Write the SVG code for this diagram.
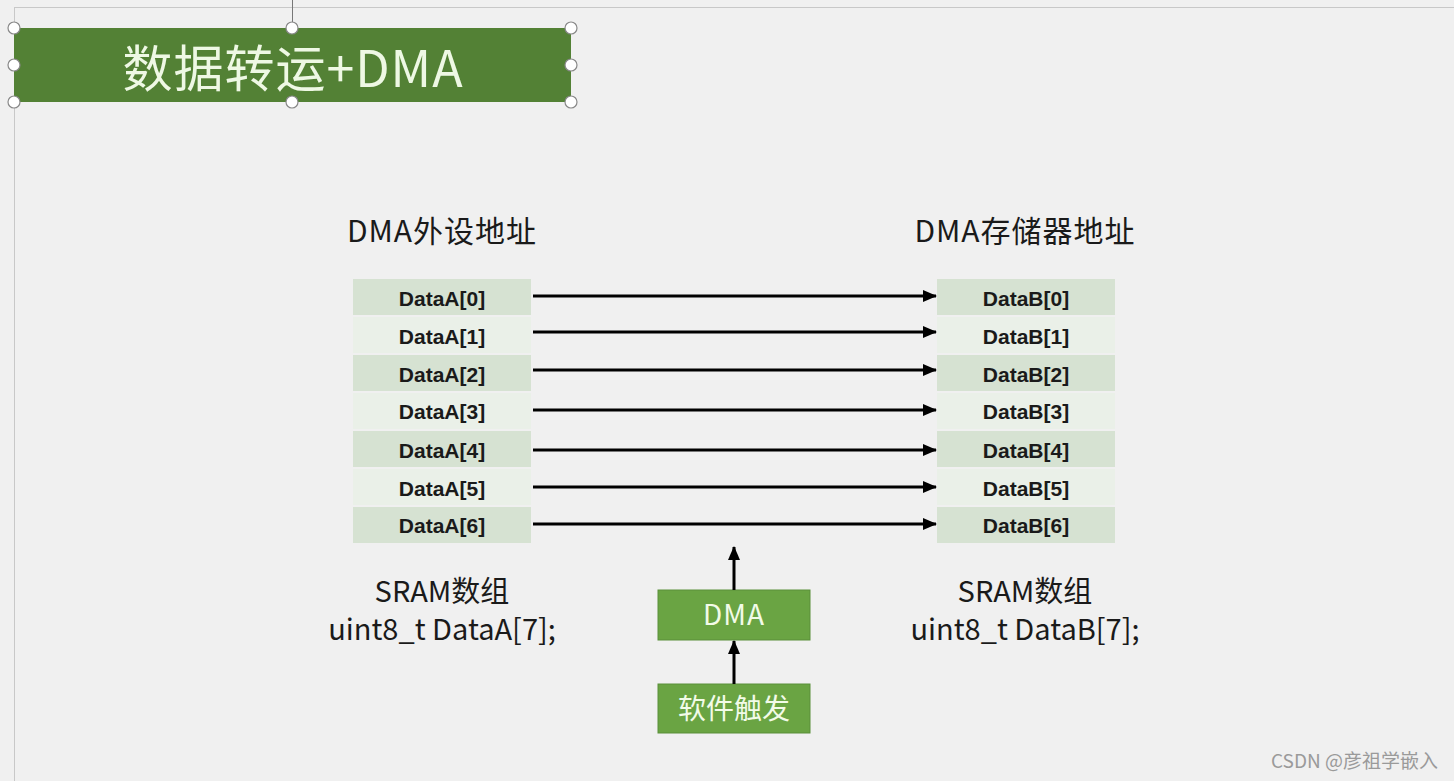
<svg xmlns="http://www.w3.org/2000/svg" width="1454" height="781" viewBox="0 0 1454 781">
<defs>
<marker id="ah" markerWidth="14" markerHeight="12" refX="13" refY="6" orient="auto" markerUnits="userSpaceOnUse">
<path d="M0,0 L14,6 L0,12 Z" fill="#000"/>
</marker>
<style>
.cn{font-family:"Noto Sans CJK SC","Liberation Sans",sans-serif;}
.cell{font-family:"Liberation Sans","Noto Sans CJK SC",sans-serif;font-weight:bold;font-size:21px;fill:#1a1a1a;text-anchor:middle;}
.dk{fill:#d6e2d2;}
.lt{fill:#eaf0e8;}
.lbl{font-size:30px;fill:#1a1a1a;text-anchor:middle;letter-spacing:1px;}
.sr{font-size:29px;fill:#1a1a1a;text-anchor:middle;}
.gbox{fill:#6aa443;stroke:#5a8f3a;stroke-width:1;}
.gtxt{font-size:28px;fill:#f2fbe8;text-anchor:middle;}
.conn{stroke:#000;stroke-width:3;fill:none;}
.hdl{fill:#fff;stroke:#888;stroke-width:1.2;}
</style>
</defs>
<rect x="0" y="0" width="1454" height="781" fill="#f0f0f0"/>
<line x1="14" y1="7.5" x2="1454" y2="7.5" stroke="#c8c8c8" stroke-width="1"/>
<line x1="14.5" y1="7" x2="14.5" y2="781" stroke="#c8c8c8" stroke-width="1"/>
<line x1="292.5" y1="0" x2="292.5" y2="28" stroke="#777" stroke-width="1"/>

<g id="title">
<rect x="14" y="28" width="557" height="74" fill="#538135"/>
<text x="293" y="87" class="cn" font-size="50" fill="#eef8e4" text-anchor="middle" letter-spacing="1">数据转运+DMA</text>
<circle class="hdl" cx="14" cy="28" r="6"/>
<circle class="hdl" cx="292" cy="28" r="6"/>
<circle class="hdl" cx="571" cy="28" r="6"/>
<circle class="hdl" cx="14" cy="65" r="6"/>
<circle class="hdl" cx="571" cy="65" r="6"/>
<circle class="hdl" cx="14" cy="102" r="6"/>
<circle class="hdl" cx="292" cy="102" r="6"/>
<circle class="hdl" cx="571" cy="102" r="6"/>
</g>

<g id="labelA">
<text x="442" y="242" class="cn lbl">DMA外设地址</text>
</g>
<g id="labelB">
<text x="1025" y="242" class="cn lbl">DMA存储器地址</text>
</g>

<g id="arrayA">
<rect x="353" y="279" width="178" height="36" class="dk"/>
<rect x="353" y="317" width="178" height="36" class="lt"/>
<rect x="353" y="355" width="178" height="36" class="dk"/>
<rect x="353" y="393" width="178" height="36" class="lt"/>
<rect x="353" y="431" width="178" height="36" class="dk"/>
<rect x="353" y="469" width="178" height="36" class="lt"/>
<rect x="353" y="507" width="178" height="36" class="dk"/>
<text x="442" y="306" class="cell">DataA[0]</text>
<text x="442" y="344" class="cell">DataA[1]</text>
<text x="442" y="382" class="cell">DataA[2]</text>
<text x="442" y="419" class="cell">DataA[3]</text>
<text x="442" y="458" class="cell">DataA[4]</text>
<text x="442" y="496" class="cell">DataA[5]</text>
<text x="442" y="533" class="cell">DataA[6]</text>
</g>

<g id="arrayB">
<rect x="937" y="279" width="178" height="36" class="dk"/>
<rect x="937" y="317" width="178" height="36" class="lt"/>
<rect x="937" y="355" width="178" height="36" class="dk"/>
<rect x="937" y="393" width="178" height="36" class="lt"/>
<rect x="937" y="431" width="178" height="36" class="dk"/>
<rect x="937" y="469" width="178" height="36" class="lt"/>
<rect x="937" y="507" width="178" height="36" class="dk"/>
<text x="1026" y="306" class="cell">DataB[0]</text>
<text x="1026" y="344" class="cell">DataB[1]</text>
<text x="1026" y="382" class="cell">DataB[2]</text>
<text x="1026" y="419" class="cell">DataB[3]</text>
<text x="1026" y="458" class="cell">DataB[4]</text>
<text x="1026" y="496" class="cell">DataB[5]</text>
<text x="1026" y="533" class="cell">DataB[6]</text>
</g>

<g id="sramA">
<text x="442" y="602" class="cn sr">SRAM数组</text>
<text x="442" y="640" class="cn sr">uint8_t DataA[7];</text>
</g>
<g id="sramB">
<text x="1025" y="602" class="cn sr">SRAM数组</text>
<text x="1025" y="640" class="cn sr">uint8_t DataB[7];</text>
</g>

<g id="dma">
<rect x="658" y="590" width="152" height="50" class="gbox"/>
<text x="734" y="625" class="cn gtxt" font-size="27" letter-spacing="1">DMA</text>
</g>
<g id="trigger">
<rect x="658" y="684" width="152" height="49" class="gbox"/>
<text x="734" y="719" class="cn gtxt">软件触发</text>
</g>

<g id="connectors">
<line x1="533" y1="296" x2="936" y2="296" class="conn" marker-end="url(#ah)"/>
<line x1="533" y1="332" x2="936" y2="332" class="conn" marker-end="url(#ah)"/>
<line x1="533" y1="370" x2="936" y2="370" class="conn" marker-end="url(#ah)"/>
<line x1="533" y1="410" x2="936" y2="410" class="conn" marker-end="url(#ah)"/>
<line x1="533" y1="450" x2="936" y2="450" class="conn" marker-end="url(#ah)"/>
<line x1="533" y1="487" x2="936" y2="487" class="conn" marker-end="url(#ah)"/>
<line x1="533" y1="524" x2="936" y2="524" class="conn" marker-end="url(#ah)"/>
<line x1="734" y1="684" x2="734" y2="641" class="conn" marker-end="url(#ah)"/>
<line x1="734" y1="590" x2="734" y2="547" class="conn" marker-end="url(#ah)"/>
</g>

<text x="1438" y="768" class="cn" font-size="19" fill="#9a9a9a" text-anchor="end">CSDN @彦祖学嵌入</text>
</svg>
